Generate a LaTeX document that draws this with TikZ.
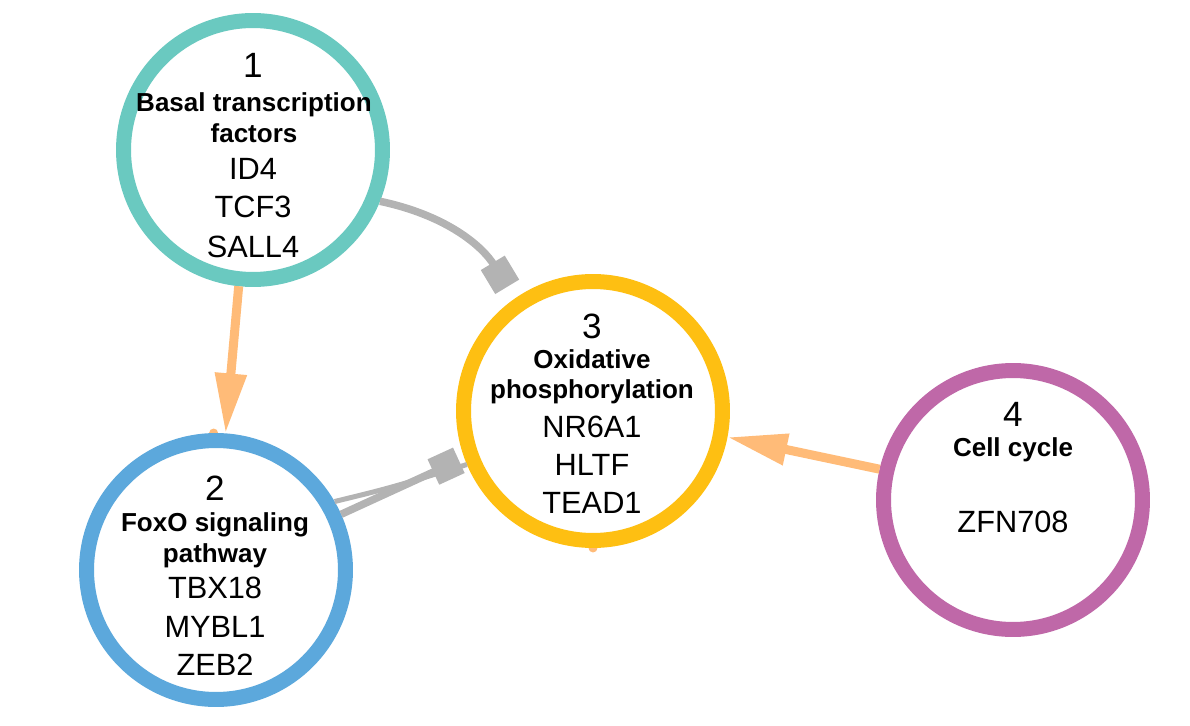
\documentclass[tikz,border=0pt]{standalone}
\usepackage{fontspec}
\setmainfont{Liberation Sans}
\usetikzlibrary{arrows.meta,backgrounds}

\definecolor{ringteal}{HTML}{6AC9C0}
\definecolor{ringblue}{HTML}{5CA8DC}
\definecolor{ringgold}{HTML}{FEBF12}
\definecolor{ringplum}{HTML}{BF68A8}
\definecolor{actorange}{HTML}{FFBB78}
\definecolor{inhgrey}{HTML}{B3B3B3}

\begin{document}
\begin{tikzpicture}[x=0.02cm, y=-0.02cm,
    module/.style={circle, draw, fill=white, line width=0.3cm, minimum size=5.18cm, inner sep=0pt},
    num/.style={anchor=base, font=\fontsize{20}{24}\selectfont},
    term/.style={anchor=base, font=\fontsize{14.8}{17}\selectfont\bfseries},
    gene/.style={anchor=base, font=\fontsize{17.5}{21}\selectfont},
    act/.style={draw=actorange, line width=0.18cm, -{Triangle[length=1.2cm,width=0.6cm]}},
    inh/.style={draw=inhgrey, line width=0.15cm, -{Square[length=0.56cm,width=0.56cm]}},
    link/.style={draw=inhgrey, line width=0.1cm},
    stub/.style={fill=actorange}
]
    \useasboundingbox (0,0) rectangle (1190,726);

    % Modules
    \node[module, draw=ringteal] (n1) at (253,150) {};
    \node[module, draw=ringblue] (n2) at (216,570) {};
    \node[module, draw=ringgold] (n3) at (593,411) {};
    \node[module, draw=ringplum] (n4) at (1013,500) {};

    % Module 1
    \node[num] (n1num) at (253,78) {1};
    \node[term] (n1t1) at (254,112) {Basal transcription};
    \node[term] (n1t2) at (254,143) {factors};
    \node[gene] (n1g1) at (253,180) {ID4};
    \node[gene] (n1g2) at (253,218) {TCF3};
    \node[gene] (n1g3) at (253,257) {SALL4};

    % Module 2
    \node[num] (n2num) at (215,500) {2};
    \node[term] (n2t1) at (215,531) {FoxO signaling};
    \node[term] (n2t2) at (215,562) {pathway};
    \node[gene] (n2g1) at (215,598) {TBX18};
    \node[gene] (n2g2) at (215,637) {MYBL1};
    \node[gene] (n2g3) at (215,675) {ZEB2};

    % Module 3
    \node[num] (n3num) at (592,338) {3};
    \node[term] (n3t1) at (592,368) {Oxidative};
    \node[term] (n3t2) at (592,398) {phosphorylation};
    \node[gene] (n3g1) at (592,437) {NR6A1};
    \node[gene] (n3g2) at (592,475) {HLTF};
    \node[gene] (n3g3) at (592,513) {TEAD1};

    % Module 4
    \node[num] (n4num) at (1013,426) {4};
    \node[term] (n4t1) at (1013,456) {Cell cycle};
    \node[gene] (n4g1) at (1013,532) {ZFN708};

    % Links
    \draw[act] (n1.-96) -- (n2.86);
    \draw[act] (n4.167) -- (n3.-11);
    \draw[inh, shorten >=0.28cm] (n1.-22) .. controls (445,215) and (482,245) .. (n3.125);
    \draw[link] (n2.30) .. controls (390,488) .. (n3.203);
    \draw[inh, shorten >=0.12cm] (n2.24) -- (n3.200);

    % Loose ends
    \begin{scope}[on background layer]
        \fill[stub] (n2.91) circle (0.09cm);
        \fill[stub] (n3.-90) circle (0.09cm);
    \end{scope}
\end{tikzpicture}
\end{document}
